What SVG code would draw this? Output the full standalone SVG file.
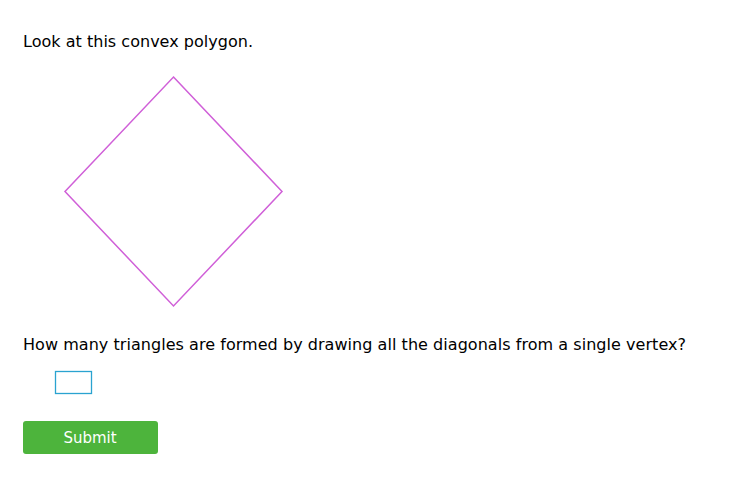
<svg xmlns="http://www.w3.org/2000/svg" width="745" height="483" viewBox="0 0 745 483">
<style>
.t{font-family:"DejaVu Sans",Verdana,sans-serif;font-size:16px;fill:#000}
.b{font-family:"DejaVu Sans",Verdana,sans-serif;font-size:15px;fill:#fff}
</style>
<rect width="745" height="483" fill="#fff"/>
<text class="t" x="23" y="47" textLength="230" lengthAdjust="spacing">Look at this convex polygon.</text>
<g id="polygon">
<polygon points="173.5,77 282,191.5 173.5,306 65,191.5" fill="none" stroke="#d060d8" stroke-width="1.5"/>
</g>
<text class="t" x="23" y="350" textLength="663" lengthAdjust="spacing">How many triangles are formed by drawing all the diagonals from a single vertex?</text>
<g id="input">
<rect x="55.5" y="371.5" width="36" height="22" fill="#fff" stroke="#2aa3d0" stroke-width="1.3"/>
</g>
<g id="submit">
<rect x="23" y="421" width="135" height="33" rx="3" fill="#4db43c"/>
<text class="b" x="90" y="443" text-anchor="middle">Submit</text>
</g>
</svg>
